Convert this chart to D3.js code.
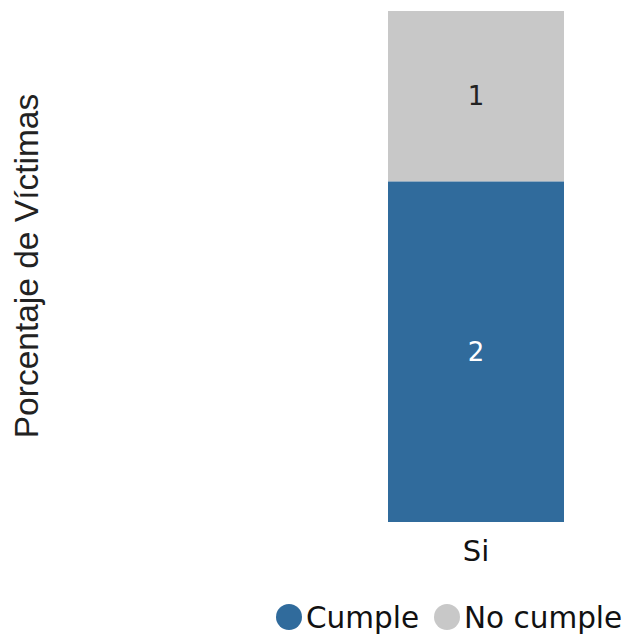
<!DOCTYPE html>
<html><head><meta charset="utf-8">
<script src="https://cdn.jsdelivr.net/npm/d3@7"></script>
<style>body{margin:0;background:#fff}svg{display:block}</style>
</head><body>
<svg id="c" width="631" height="639"></svg>
<script>
const categories = ["Si"];
const seriesKeys = ["Cumple", "No cumple"];
const cumple = [2];
const noCumple = [1];
const colors = ["#306b9c", "#c8c8c8"];
const labelColors = ["#ffffff", "#222222"];
const yTitle = "Porcentaje de Víctimas";

const rows = categories.map((c, i) => ({cat: c, "Cumple": cumple[i], "No cumple": noCumple[i]}));
const stack = d3.stack().keys(seriesKeys).offset(d3.stackOffsetExpand);
const series = stack(rows);

const svg = d3.select("#c");
const x = d3.scaleBand().domain(categories).range([388, 564]).padding(0);
const y = d3.scaleLinear().domain([0, 1]).range([522, 11]);
const color = d3.scaleOrdinal().domain(seriesKeys).range(colors);

const g = svg.append("g");
series.forEach((s, si) => {
  g.selectAll(null).data(s).enter().append("rect")
    .attr("x", d => x(d.data.cat))
    .attr("width", x.bandwidth())
    .attr("y", d => y(d[1]))
    .attr("height", d => y(d[0]) - y(d[1]))
    .attr("fill", color(s.key));
  g.selectAll(null).data(s).enter().append("text")
    .attr("x", d => x(d.data.cat) + x.bandwidth() / 2)
    .attr("y", d => (y(d[0]) + y(d[1])) / 2)
    .attr("text-anchor", "middle")
    .attr("dominant-baseline", "central")
    .attr("font-family", "DejaVu Sans, Verdana, sans-serif")
    .attr("font-size", 26)
    .attr("fill", labelColors[si])
    .text(d => d.data[s.key]);
});

const xAxis = d3.axisBottom(x).tickSize(0).tickPadding(18);
const xg = svg.append("g").attr("transform", "translate(0,522)").call(xAxis);
xg.select(".domain").remove();
xg.selectAll("text").attr("font-family", "DejaVu Sans, Verdana, sans-serif").attr("font-size", 29).attr("fill", "#111");

svg.append("text")
  .attr("transform", "translate(38,266) rotate(-90)")
  .attr("text-anchor", "middle")
  .attr("font-family", "Liberation Sans, Arial, sans-serif")
  .attr("font-size", 33.5)
  .attr("fill", "#222")
  .text(yTitle);

// legend
const legend = svg.append("g").attr("transform", "translate(0,617)");
const legendX = [289, 447];
seriesKeys.forEach((k, i) => {
  const lg = legend.append("g").attr("transform", `translate(${legendX[i]},0)`);
  lg.append("circle").attr("r", 13).attr("fill", color(k));
  lg.append("text").attr("x", 17).attr("dy", "0.36em")
    .attr("font-family", "DejaVu Sans, Verdana, sans-serif")
    .attr("font-size", 29.5).attr("fill", "#111").text(k);
});
</script>
</body></html>
